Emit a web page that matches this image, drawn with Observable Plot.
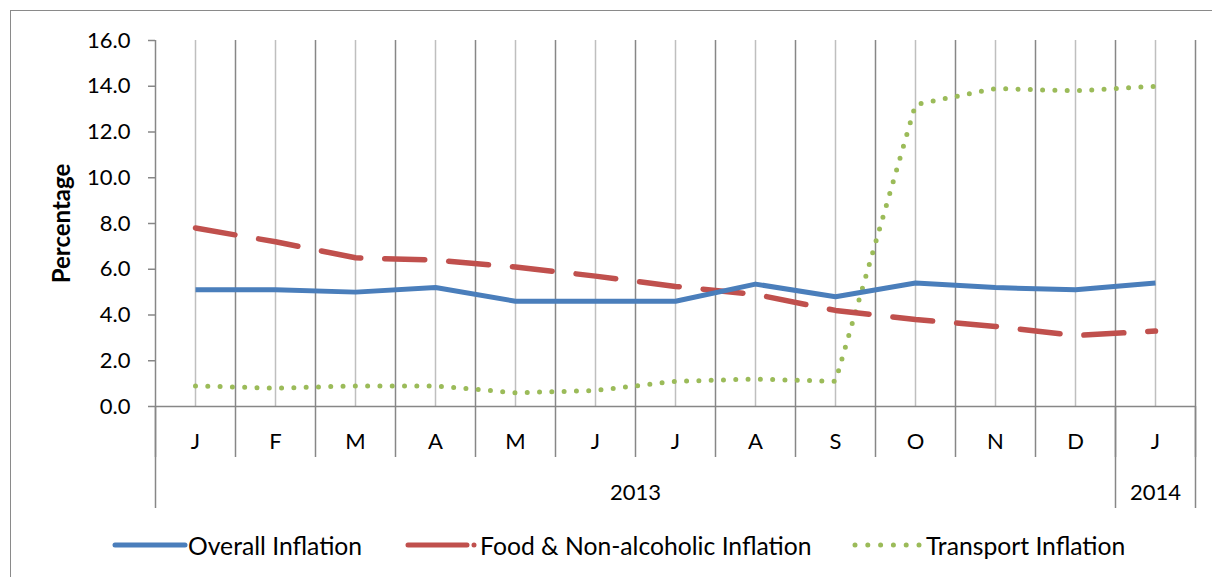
<!DOCTYPE html>
<html>
<head>
<meta charset="utf-8">
<script src="https://cdn.jsdelivr.net/npm/d3@7"></script>
<script src="https://cdn.jsdelivr.net/npm/@observablehq/plot@0.6"></script>
<style>
  html, body { margin: 0; padding: 0; background: #fff; overflow: hidden; width: 1212px; height: 577px; }
  #wrap { position: relative; width: 1212px; height: 577px; font-family: Lato, "Open Sans", sans-serif; }
  #frame { position: absolute; left: 10px; top: 10px; width: 1400px; height: 800px; border: 1.5px solid #8a8a8a; box-sizing: border-box; pointer-events: none; }
  #chart { position: absolute; left: 0; top: 0; }
  #legend { position: absolute; left: 0; top: 524px; width: 1212px; height: 52px; font-size: 24.7px; color: #000; }
  .item { position: absolute; top: 0; height: 42px; display: flex; align-items: center; white-space: nowrap; }
  .item svg { display: block; }
</style>
</head>
<body>
<div id="wrap">
  <div id="chart"></div>
  <div id="legend"></div>
  <div id="frame"></div>
</div>
<script>
const months = ["J","F","M","A","M","J","J","A","S","O","N","D","J"];
const overall = [5.1,5.1,5.0,5.2,4.6,4.6,4.6,5.35,4.8,5.4,5.2,5.1,5.4];
const food = [7.8,7.2,6.5,6.4,6.1,5.7,5.25,4.9,4.2,3.8,3.5,3.1,3.3];
const transport = [0.9,0.8,0.9,0.9,0.6,0.7,1.1,1.2,1.1,13.2,13.9,13.8,14.0];
const years = [{label:"2013", first:0, last:11},{label:"2014", first:12, last:12}];
const yTicks = [0,2,4,6,8,10,12,14,16];
const seriesNames = ["Overall Inflation","Food & Non-alcoholic Inflation","Transport Inflation"];
const colors = ["#4a7ebb","#c0504d","#9bbb59"];

const idx = months.map((d,i)=>i);
const bounds = d3.range(months.length + 1).map(i => i - 0.5);
const yearBounds = [years[0].first - 0.5, ...years.map(y => y.last + 0.5)];

const chart = Plot.plot({
  width: 1212,
  height: 525,
  marginTop: 40,
  marginBottom: 119,
  marginLeft: 155,
  marginRight: 17,
  x: {type: "linear", domain: [-0.5, months.length - 0.5], axis: null},
  y: {domain: [0, 16], axis: null},
  style: {fontFamily: "Lato, 'Open Sans', sans-serif", fontSize: "22px", color: "#000", background: "transparent", overflow: "visible"},
  marks: [
    Plot.ruleX(idx, {stroke: "#bfbfbf", strokeWidth: 1.5, strokeOpacity: 1}),
    Plot.ruleX(bounds, {stroke: "#878787", strokeWidth: 1.5, strokeOpacity: 1}),
    Plot.axisY({ticks: yTicks, tickSize: 7, tickPadding: 18, tickFormat: d => d.toFixed(1), stroke: "#878787", strokeWidth: 1.5, strokeOpacity: 1, fontSize: 22, label: null}),
    Plot.ruleY([0], {stroke: "#878787", strokeWidth: 1.5}),
    Plot.axisX({ticks: bounds, tickSize: 51, tickFormat: () => "", stroke: "#878787", strokeWidth: 1.5, strokeOpacity: 1, label: null}),
    Plot.axisX({ticks: yearBounds, tickSize: 102, tickFormat: () => "", stroke: "#878787", strokeWidth: 1.5, strokeOpacity: 1, label: null}),
    Plot.text(months, {x: (d,i) => i, frameAnchor: "bottom", lineAnchor: "middle", dy: 35, text: d => d, fontSize: 22}),
    Plot.text(years, {x: d => (d.first + d.last) / 2, frameAnchor: "bottom", lineAnchor: "middle", dy: 86, text: "label", fontSize: 22}),
    Plot.text(["Percentage"], {frameAnchor: "left", textAnchor: "middle", lineAnchor: "middle", dx: -93, rotate: -90, text: d => d, fontWeight: "bold", fontSize: 24}),
    Plot.line(transport, {x: (d,i) => i, y: d => d, stroke: colors[2], strokeWidth: 5, strokeDasharray: "0 12.3", strokeLinecap: "round", strokeLinejoin: "round"}),
    Plot.line(food, {x: (d,i) => i, y: d => d, stroke: colors[1], strokeWidth: 5.5, strokeDasharray: "40 24", strokeLinecap: "round", strokeLinejoin: "round"}),
    Plot.line(overall, {x: (d,i) => i, y: d => d, stroke: colors[0], strokeWidth: 5, strokeLinejoin: "round", strokeLinecap: "butt"})
  ]
});
document.getElementById("chart").appendChild(chart);

// Legend
const legend = document.getElementById("legend");
const legendLeft = [111, 403, 851];
const swatches = [
  {w: 77, x1: 4, x2: 74, dash: null},
  {w: 77, x1: 5, x2: 75, dash: "59 7 0.01 100"},
  {w: 75, x1: 4, x2: 70, dash: "0 12.8"}
];
seriesNames.forEach((name, i) => {
  const item = document.createElement("div");
  item.className = "item";
  item.style.left = legendLeft[i] + "px";
  const s = swatches[i];
  const svg = d3.create("svg").attr("width", s.w).attr("height", 12);
  svg.append("line")
    .attr("x1", s.x1).attr("x2", s.x2)
    .attr("y1", 6).attr("y2", 6)
    .attr("stroke", colors[i])
    .attr("stroke-width", 5)
    .attr("stroke-linecap", "round")
    .attr("stroke-dasharray", s.dash);
  item.appendChild(svg.node());
  const span = document.createElement("span");
  span.textContent = name;
  item.appendChild(span);
  legend.appendChild(item);
});
</script>
</body>
</html>
